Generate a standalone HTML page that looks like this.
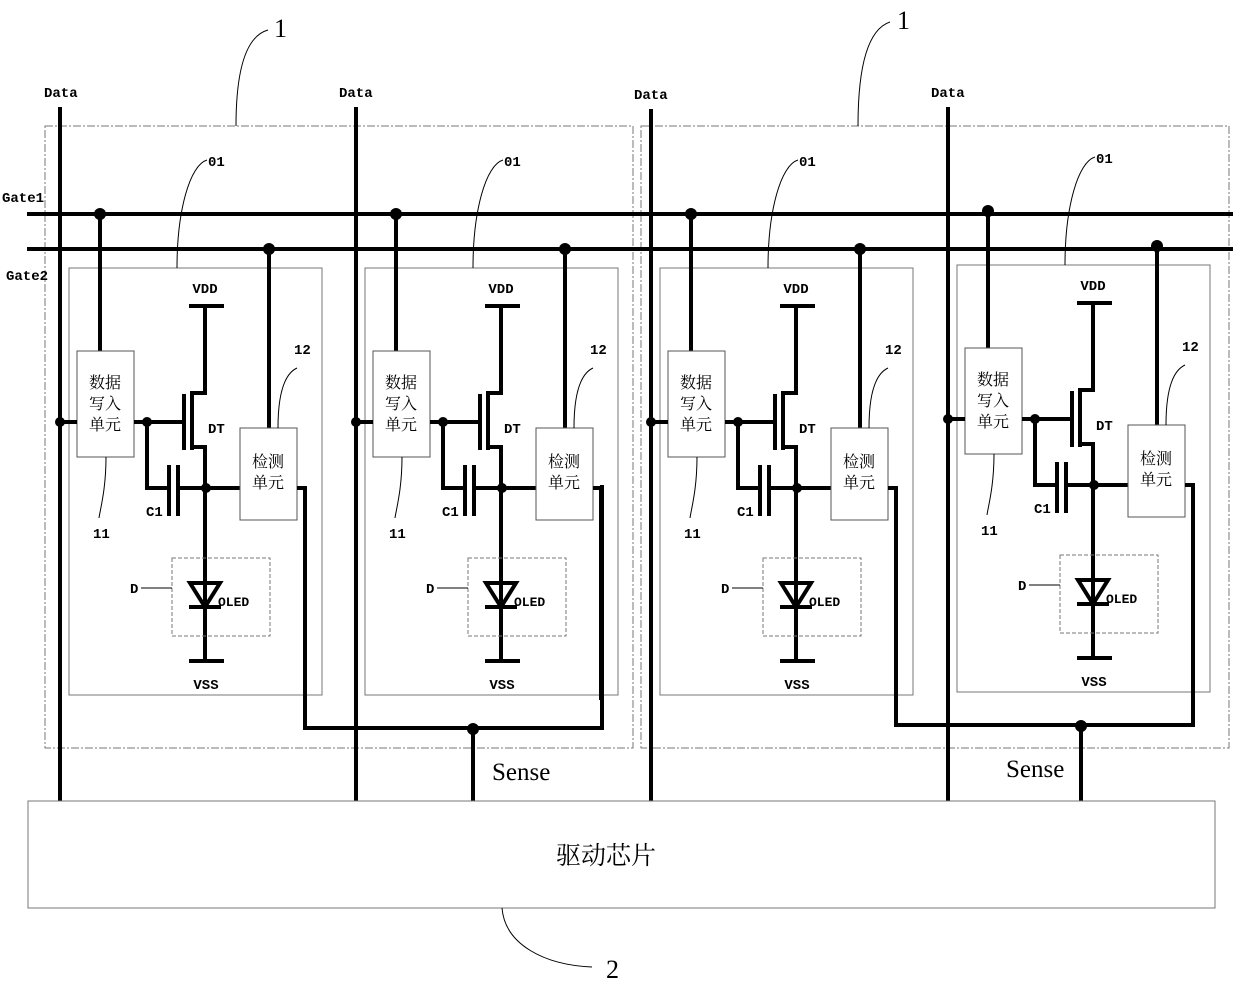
<!DOCTYPE html>
<html><head><meta charset="utf-8"><style>
html,body{margin:0;padding:0;background:#fff}
svg text{font-family:"Liberation Serif","Noto Serif CJK SC",serif;fill:#000}
.m{font-family:"Liberation Mono","DejaVu Sans Mono",monospace;font-weight:bold;font-size:14px}
.c{font-family:"Noto Serif CJK SC","Noto Sans CJK SC",serif;font-size:16px}
</style></head><body>
<svg width="1240" height="981" viewBox="0 0 1240 981" xmlns="http://www.w3.org/2000/svg">
<defs>
<g id="cell">
  <rect x="69" y="268" width="253" height="427" fill="none" stroke="#777" stroke-width="1"/>
  <path d="M177 268 C177 210 190 165 207 160" fill="none" stroke="#000" stroke-width="1"/>
  <text x="208" y="166" class="m">01</text>
  <line x1="100" y1="213" x2="100" y2="351" stroke="#000" stroke-width="4"/>
  <circle cx="100" cy="214" r="6"/>
  <line x1="269" y1="249" x2="269" y2="428" stroke="#000" stroke-width="4"/>
  <circle cx="269" cy="249" r="6"/>
  <rect x="77" y="351" width="57" height="106" fill="#fff" stroke="#555" stroke-width="1"/>
  <text x="105" y="388" class="c" text-anchor="middle">数据</text>
  <text x="105" y="409" class="c" text-anchor="middle">写入</text>
  <text x="105" y="430" class="c" text-anchor="middle">单元</text>
  <path d="M106 457 C106 490 100 510 99 518" fill="none" stroke="#000" stroke-width="1"/>
  <text x="93" y="538" class="m">11</text>
  <line x1="60" y1="422" x2="77" y2="422" stroke="#000" stroke-width="4"/>
  <circle cx="60" cy="422" r="5"/>
  <line x1="134" y1="422" x2="183" y2="422" stroke="#000" stroke-width="4"/>
  <circle cx="147" cy="422" r="5"/>
  <line x1="184" y1="394" x2="184" y2="450" stroke="#000" stroke-width="4"/>
  <polyline points="192,450 192,393 205,393 205,306" fill="none" stroke="#000" stroke-width="4"/>
  <polyline points="192,447 205,447 205,661" fill="none" stroke="#000" stroke-width="4"/>
  <line x1="189" y1="306" x2="224" y2="306" stroke="#000" stroke-width="4"/>
  <text x="205" y="293" class="m" text-anchor="middle">VDD</text>
  <text x="208" y="433" class="m">DT</text>
  <polyline points="147,422 147,488 168,488" fill="none" stroke="#000" stroke-width="4"/>
  <line x1="169" y1="465" x2="169" y2="516" stroke="#000" stroke-width="4"/>
  <line x1="178" y1="465" x2="178" y2="516" stroke="#000" stroke-width="4"/>
  <line x1="178" y1="488" x2="240" y2="488" stroke="#000" stroke-width="4"/>
  <circle cx="206" cy="488" r="5"/>
  <text x="146" y="516" class="m">C1</text>
  <rect x="240" y="428" width="57" height="92" fill="#fff" stroke="#555" stroke-width="1"/>
  <text x="268" y="467" class="c" text-anchor="middle">检测</text>
  <text x="268" y="488" class="c" text-anchor="middle">单元</text>
  <path d="M278 428 C278 400 282 375 297 368" fill="none" stroke="#000" stroke-width="1"/>
  <text x="294" y="354" class="m">12</text>
  <polyline points="297,488 305,488 305,700" fill="none" stroke="#000" stroke-width="4"/>
  <rect x="172" y="558" width="98" height="78" fill="none" stroke="#777" stroke-width="1" stroke-dasharray="4,2"/>
  <line x1="141" y1="588" x2="172" y2="588" stroke="#000" stroke-width="1"/>
  <text x="130" y="593" class="m">D</text>
  <polygon points="190,583 220,583 205,607" fill="none" stroke="#000" stroke-width="4"/>
  <line x1="189" y1="607" x2="221" y2="607" stroke="#000" stroke-width="4"/>
  <text x="218" y="606" class="m" style="font-size:13px">OLED</text>
  <line x1="189" y1="661" x2="224" y2="661" stroke="#000" stroke-width="4"/>
  <text x="206" y="689" class="m" text-anchor="middle">VSS</text>
</g>
</defs>
<rect x="45" y="126" width="588" height="622" fill="none" stroke="#777" stroke-width="1" stroke-dasharray="8,2,2,2"/>
<rect x="641" y="126" width="588" height="622" fill="none" stroke="#777" stroke-width="1" stroke-dasharray="8,2,2,2"/>
<path d="M236 126 C236 60 250 35 268 30" fill="none" stroke="#000" stroke-width="1"/>
<text x="274" y="37" style="font-size:26px">1</text>
<path d="M858 126 C858 55 872 28 890 22" fill="none" stroke="#000" stroke-width="1"/>
<text x="897" y="29" style="font-size:26px">1</text>
<line x1="27" y1="214" x2="1233" y2="214" stroke="#000" stroke-width="4"/>
<line x1="27" y1="249" x2="1233" y2="249" stroke="#000" stroke-width="4"/>
<text x="2" y="202" class="m">Gate1</text>
<text x="6" y="280" class="m">Gate2</text>
<line x1="60" y1="107" x2="60" y2="801" stroke="#000" stroke-width="4"/>
<line x1="356" y1="107" x2="356" y2="801" stroke="#000" stroke-width="4"/>
<line x1="651" y1="109" x2="651" y2="801" stroke="#000" stroke-width="4"/>
<line x1="948" y1="107" x2="948" y2="801" stroke="#000" stroke-width="4"/>
<text x="44" y="97" class="m">Data</text>
<text x="339" y="97" class="m">Data</text>
<text x="634" y="99" class="m">Data</text>
<text x="931" y="97" class="m">Data</text>
<use href="#cell"/>
<use href="#cell" transform="translate(296,0)"/>
<use href="#cell" transform="translate(591,0)"/>
<use href="#cell" transform="translate(888,-3)"/>
<polyline points="305,700 305,728 602,728 602,485" fill="none" stroke="#000" stroke-width="4"/>
<line x1="473" y1="728" x2="473" y2="801" stroke="#000" stroke-width="4"/>
<circle cx="473" cy="729" r="6"/>
<text x="492" y="780" style="font-size:25px">Sense</text>
<polyline points="896,700 896,725 1193,725 1193,485" fill="none" stroke="#000" stroke-width="4"/>
<line x1="1081" y1="725" x2="1081" y2="801" stroke="#000" stroke-width="4"/>
<circle cx="1081" cy="726" r="6"/>
<text x="1006" y="777" style="font-size:25px">Sense</text>
<rect x="28" y="801" width="1187" height="107" fill="none" stroke="#777" stroke-width="1"/>
<text x="606" y="864" class="c" style="font-size:25px" text-anchor="middle">驱动芯片</text>
<path d="M502 908 C505 945 545 965 592 967" fill="none" stroke="#000" stroke-width="1"/>
<text x="606" y="978" style="font-size:26px">2</text>
</svg>
</body></html>
